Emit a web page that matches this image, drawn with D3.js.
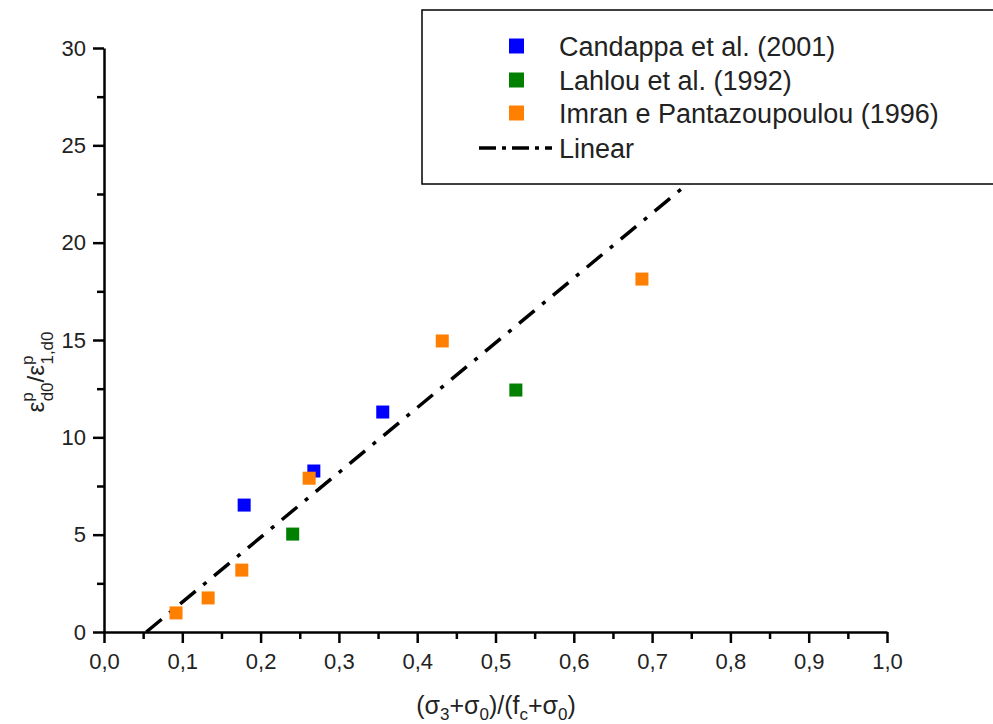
<!DOCTYPE html>
<html>
<head>
<meta charset="utf-8">
<script src="https://cdn.jsdelivr.net/npm/d3@7"></script>
<style>
  body { margin: 0; background: #fff; }
  text { font-family: "Liberation Sans", Arial, sans-serif; fill: #222; }
</style>
</head>
<body>
<div id="chart"></div>
<script>
var svgWidth = 993;
var svgHeight = 724;

var margin = { top: 48, right: 106, bottom: 92, left: 104 };
var width = svgWidth - margin.left - margin.right;
var height = svgHeight - margin.top - margin.bottom;

// Data
var candappaX = [0.179, 0.268, 0.356];
var candappaY = [6.52, 8.27, 11.3];
var lahlouX = [0.241, 0.526];
var lahlouY = [5.03, 12.43];
var imranX = [0.092, 0.133, 0.176, 0.262, 0.432, 0.687];
var imranY = [0.98, 1.75, 3.18, 7.9, 14.95, 18.13];

// Linear fit: y = slope * (x - x0)
var fitX = [0.054, 0.955];
var fitSlope = 33.3;

var xTicks = [0, 0.1, 0.2, 0.3, 0.4, 0.5, 0.6, 0.7, 0.8, 0.9, 1.0];
var yTicks = [0, 5, 10, 15, 20, 25, 30];

var seriesNames = ["Candappa et al. (2001)", "Lahlou et al. (1992)", "Imran e Pantazoupoulou (1996)"];
var seriesColors = ["#0000ff", "#008000", "#ff8000"];

var series = [
    { name: seriesNames[0], color: seriesColors[0], xs: candappaX, ys: candappaY },
    { name: seriesNames[1], color: seriesColors[1], xs: lahlouX, ys: lahlouY },
    { name: seriesNames[2], color: seriesColors[2], xs: imranX, ys: imranY }
];

var svg = d3.select("#chart").append("svg")
    .attr("width", svgWidth)
    .attr("height", svgHeight);

var chartGroup = svg.append("g")
    .attr("transform", `translate(${margin.left}, ${margin.top})`);

var xScale = d3.scaleLinear().domain([0, 1]).range([0, width]);
var yScale = d3.scaleLinear().domain([0, 30]).range([height, 0]);

var fmt = d => d3.format(".1f")(d).replace(".", ",");

// minor ticks
var xMinor = d3.range(0.05, 1, 0.1);
var yMinor = d3.range(2.5, 30, 5);

chartGroup.append("g")
    .attr("transform", `translate(0, ${height})`)
    .call(d3.axisBottom(xScale).tickValues(xMinor).tickSize(7).tickFormat(""))
    .call(g => g.select(".domain").remove())
    .selectAll("line").attr("stroke", "#000").attr("stroke-width", 2.5);

chartGroup.append("g")
    .call(d3.axisLeft(yScale).tickValues(yMinor).tickSize(7).tickFormat(""))
    .call(g => g.select(".domain").remove())
    .selectAll("line").attr("stroke", "#000").attr("stroke-width", 2.5);

// major x axis
var xAxis = chartGroup.append("g")
    .attr("transform", `translate(0, ${height})`)
    .call(d3.axisBottom(xScale).tickValues(xTicks).tickSize(11).tickSizeOuter(0).tickFormat(fmt));
xAxis.select(".domain").attr("stroke", "#000").attr("stroke-width", 2.5);
xAxis.selectAll(".tick line").attr("stroke", "#000").attr("stroke-width", 2.5);
xAxis.selectAll(".tick text").attr("font-size", 22).attr("y", 21).attr("fill", "#222");

// major y axis
var yAxis = chartGroup.append("g")
    .call(d3.axisLeft(yScale).tickValues(yTicks).tickSize(11).tickSizeOuter(0));
yAxis.select(".domain").attr("stroke", "#000").attr("stroke-width", 2.5);
yAxis.selectAll(".tick line").attr("stroke", "#000").attr("stroke-width", 2.5);
yAxis.selectAll(".tick text").attr("font-size", 22).attr("x", -18).attr("fill", "#222");

// fit line
var line = d3.line()
    .x(d => xScale(d))
    .y(d => yScale(fitSlope * (d - fitX[0])));

chartGroup.append("path")
    .datum(fitX)
    .attr("d", line)
    .attr("fill", "none")
    .attr("stroke", "#000")
    .attr("stroke-width", 3.5)
    .attr("stroke-dasharray", "20,10,4,10");

// points
series.forEach(function (s) {
    chartGroup.selectAll(null)
        .data(s.xs.map((x, i) => [x, s.ys[i]]))
        .enter()
        .append("rect")
        .attr("x", d => xScale(d[0]) - 6.5)
        .attr("y", d => yScale(d[1]) - 6.5)
        .attr("width", 13)
        .attr("height", 13)
        .attr("fill", s.color);
});

// legend
var legend = svg.append("g");
legend.append("rect")
    .attr("x", 422)
    .attr("y", 10)
    .attr("width", 600)
    .attr("height", 174)
    .attr("fill", "#fff")
    .attr("stroke", "#000")
    .attr("stroke-width", 1.5);

var rowY = [46, 80, 113, 148];

series.forEach(function (s, i) {
    legend.append("rect")
        .attr("x", 509).attr("y", rowY[i] - 7.5)
        .attr("width", 15).attr("height", 15)
        .attr("fill", s.color);
    legend.append("text")
        .attr("x", 559).attr("y", rowY[i])
        .attr("dy", "0.36em")
        .attr("font-size", 27)
        .text(s.name);
});

legend.append("line")
    .attr("x1", 479).attr("x2", 552)
    .attr("y1", rowY[3]).attr("y2", rowY[3])
    .attr("stroke", "#000")
    .attr("stroke-width", 3.5)
    .attr("stroke-dasharray", "17,6,4,6");
legend.append("text")
    .attr("x", 559).attr("y", rowY[3])
    .attr("dy", "0.36em")
    .attr("font-size", 27)
    .text("Linear");

// y axis title
var yTitle = svg.append("text")
    .attr("transform", "translate(44, 372) rotate(-90)")
    .attr("text-anchor", "middle")
    .attr("font-size", 24);
yTitle.append("tspan").text("ε");
yTitle.append("tspan").attr("dy", -11).attr("font-size", 17).text("p");
yTitle.append("tspan").attr("dx", -9).attr("dy", 20).attr("font-size", 17).text("d0");
yTitle.append("tspan").attr("dy", -9).text("/ε");
yTitle.append("tspan").attr("dy", -11).attr("font-size", 17).text("p");
yTitle.append("tspan").attr("dx", -9).attr("dy", 20).attr("font-size", 17).text("1,d0");

// x axis title
var xTitle = svg.append("text")
    .attr("x", 496).attr("y", 714)
    .attr("text-anchor", "middle")
    .attr("font-size", 25);
xTitle.append("tspan").text("(σ");
xTitle.append("tspan").attr("dy", 6).attr("font-size", 17).text("3");
xTitle.append("tspan").attr("dy", -6).text("+σ");
xTitle.append("tspan").attr("dy", 6).attr("font-size", 17).text("0");
xTitle.append("tspan").attr("dy", -6).text(")/(f");
xTitle.append("tspan").attr("dy", 6).attr("font-size", 17).text("c");
xTitle.append("tspan").attr("dy", -6).text("+σ");
xTitle.append("tspan").attr("dy", 6).attr("font-size", 17).text("0");
xTitle.append("tspan").attr("dy", -6).text(")");
</script>
</body>
</html>
